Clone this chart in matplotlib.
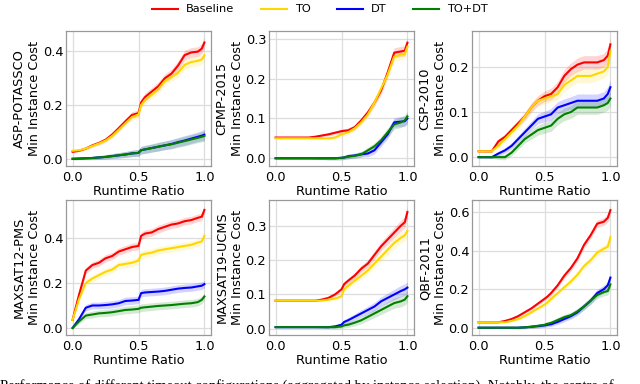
import matplotlib
matplotlib.use("Agg")
import matplotlib.pyplot as plt
import numpy as np

x = [0, 0.05, 0.1, 0.15, 0.2, 0.25, 0.3, 0.35, 0.4, 0.45, 0.5, 0.52, 0.55,
     0.6, 0.65, 0.7, 0.75, 0.8, 0.85, 0.9, 0.95, 0.98, 1.0]

series_names = ["Baseline", "TO", "DT", "TO+DT"]
series_colors = ["#ff0000", "#ffd700", "#0000ff", "#008000"]

panels = ["ASP-POTASSCO", "CPMP-2015", "CSP-2010",
          "MAXSAT12-PMS", "MAXSAT19-UCMS", "QBF-2011"]

asp_baseline = [0.026, 0.03, 0.038, 0.05, 0.059, 0.071, 0.09, 0.114, 0.139, 0.163, 0.17, 0.21, 0.23,
                0.25, 0.27, 0.30, 0.317, 0.347, 0.386, 0.396, 0.399, 0.41, 0.433]
asp_to = [0.03, 0.032, 0.038, 0.048, 0.057, 0.068, 0.085, 0.108, 0.132, 0.155, 0.165, 0.2, 0.22,
          0.24, 0.26, 0.29, 0.305, 0.32, 0.35, 0.36, 0.365, 0.37, 0.385]
asp_dt = [0.0, 0.001, 0.002, 0.003, 0.005, 0.007, 0.01, 0.013, 0.016, 0.02, 0.022, 0.032, 0.035,
          0.04, 0.045, 0.05, 0.055, 0.062, 0.068, 0.075, 0.082, 0.086, 0.09]
asp_todt = [0.0, 0.001, 0.002, 0.003, 0.005, 0.007, 0.01, 0.013, 0.016, 0.02, 0.022, 0.032, 0.035,
            0.04, 0.045, 0.05, 0.054, 0.06, 0.066, 0.072, 0.078, 0.082, 0.085]
asp_spread = [0.004, 0.004, 0.005, 0.006, 0.007, 0.008, 0.009, 0.01, 0.011, 0.012, 0.013, 0.014, 0.015,
              0.015, 0.016, 0.016, 0.017, 0.017, 0.018, 0.018, 0.018, 0.019, 0.02]

cpmp_baseline = [0.052, 0.052, 0.052, 0.052, 0.052, 0.052, 0.054, 0.057, 0.06, 0.064, 0.068, 0.069, 0.07,
                 0.078, 0.095, 0.115, 0.14, 0.17, 0.215, 0.265, 0.268, 0.27, 0.29]
cpmp_to = [0.05, 0.05, 0.05, 0.05, 0.05, 0.05, 0.05, 0.05, 0.05, 0.052, 0.06, 0.062, 0.065,
           0.075, 0.09, 0.11, 0.14, 0.175, 0.21, 0.255, 0.26, 0.262, 0.28]
cpmp_dt = [0.0, 0.0, 0.0, 0.0, 0.0, 0.0, 0.0, 0.0, 0.0, 0.0, 0.001, 0.002, 0.005,
           0.007, 0.01, 0.012, 0.02, 0.04, 0.06, 0.09, 0.092, 0.093, 0.1]
cpmp_todt = [0.0, 0.0, 0.0, 0.0, 0.0, 0.0, 0.0, 0.0, 0.0, 0.0, 0.001, 0.002, 0.004,
             0.006, 0.01, 0.02, 0.03, 0.045, 0.065, 0.085, 0.09, 0.095, 0.105]
cpmp_spread = [0.002, 0.002, 0.002, 0.002, 0.002, 0.002, 0.003, 0.003, 0.004, 0.004, 0.005, 0.005, 0.006,
               0.006, 0.007, 0.008, 0.009, 0.01, 0.011, 0.012, 0.013, 0.013, 0.014]

csp_baseline = [0.013, 0.013, 0.013, 0.035, 0.045, 0.06, 0.075, 0.09, 0.11, 0.125, 0.135, 0.137, 0.14,
                0.155, 0.18, 0.195, 0.205, 0.21, 0.21, 0.21, 0.215, 0.225, 0.25]
csp_to = [0.013, 0.013, 0.013, 0.025, 0.04, 0.055, 0.07, 0.09, 0.11, 0.125, 0.13, 0.132, 0.135,
          0.14, 0.16, 0.17, 0.18, 0.18, 0.18, 0.185, 0.19, 0.2, 0.235]
csp_dt = [0.0, 0.0, 0.0, 0.008, 0.015, 0.025, 0.04, 0.055, 0.07, 0.085, 0.09, 0.092, 0.095,
          0.11, 0.115, 0.12, 0.125, 0.125, 0.125, 0.125, 0.13, 0.14, 0.155]
csp_todt = [0.0, 0.0, 0.0, 0.0, 0.0, 0.01, 0.025, 0.04, 0.05, 0.06, 0.065, 0.067, 0.07,
            0.085, 0.095, 0.1, 0.11, 0.11, 0.11, 0.11, 0.115, 0.12, 0.13]
csp_spread = [0.002, 0.002, 0.003, 0.005, 0.006, 0.007, 0.008, 0.009, 0.01, 0.011, 0.012, 0.012, 0.013,
              0.013, 0.014, 0.014, 0.015, 0.015, 0.015, 0.015, 0.015, 0.016, 0.016]

ms12_baseline = [0.036, 0.15, 0.255, 0.28, 0.29, 0.31, 0.32, 0.34, 0.35, 0.36, 0.365, 0.41, 0.42,
                 0.425, 0.44, 0.45, 0.46, 0.465, 0.475, 0.48, 0.49, 0.495, 0.525]
ms12_to = [0.036, 0.13, 0.2, 0.22, 0.235, 0.25, 0.26, 0.28, 0.285, 0.29, 0.3, 0.325, 0.33,
           0.335, 0.345, 0.35, 0.355, 0.36, 0.365, 0.37, 0.38, 0.385, 0.41]
ms12_dt = [0.0, 0.04, 0.09, 0.1, 0.1, 0.102, 0.105, 0.11, 0.12, 0.122, 0.125, 0.155, 0.158,
           0.16, 0.162, 0.165, 0.17, 0.175, 0.178, 0.18, 0.185, 0.188, 0.195]
ms12_todt = [0.0, 0.03, 0.055, 0.06, 0.065, 0.067, 0.07, 0.075, 0.08, 0.082, 0.085, 0.09, 0.092,
             0.095, 0.098, 0.1, 0.102, 0.105, 0.108, 0.11, 0.115, 0.125, 0.14]
ms12_spread = [0.004, 0.01, 0.014, 0.015, 0.015, 0.016, 0.016, 0.016, 0.017, 0.017, 0.017, 0.017, 0.017,
               0.017, 0.017, 0.017, 0.017, 0.017, 0.017, 0.017, 0.017, 0.017, 0.017]

ms19_baseline = [0.082, 0.082, 0.082, 0.082, 0.082, 0.082, 0.082, 0.085, 0.09, 0.1, 0.115, 0.13, 0.14,
                 0.155, 0.175, 0.19, 0.215, 0.24, 0.26, 0.28, 0.3, 0.31, 0.34]
ms19_to = [0.082, 0.082, 0.082, 0.082, 0.082, 0.082, 0.082, 0.082, 0.085, 0.088, 0.095, 0.115, 0.125,
           0.14, 0.155, 0.17, 0.19, 0.21, 0.23, 0.25, 0.265, 0.272, 0.285]
ms19_dt = [0.005, 0.005, 0.005, 0.005, 0.005, 0.005, 0.005, 0.005, 0.005, 0.007, 0.012, 0.02, 0.025,
           0.035, 0.045, 0.055, 0.065, 0.08, 0.09, 0.1, 0.11, 0.115, 0.12]
ms19_todt = [0.005, 0.005, 0.005, 0.005, 0.005, 0.005, 0.005, 0.005, 0.005, 0.005, 0.007, 0.01, 0.012,
             0.018, 0.025, 0.035, 0.045, 0.055, 0.065, 0.075, 0.08, 0.085, 0.095]
ms19_spread = [0.002, 0.002, 0.002, 0.002, 0.002, 0.002, 0.002, 0.003, 0.004, 0.005, 0.006, 0.007, 0.008,
               0.009, 0.01, 0.011, 0.012, 0.013, 0.014, 0.015, 0.016, 0.016, 0.017]

qbf_baseline = [0.028, 0.028, 0.028, 0.028, 0.035, 0.045, 0.06, 0.08, 0.1, 0.125, 0.15, 0.16, 0.18,
                0.22, 0.27, 0.31, 0.36, 0.43, 0.48, 0.54, 0.55, 0.57, 0.61]
qbf_to = [0.028, 0.028, 0.028, 0.028, 0.028, 0.035, 0.045, 0.06, 0.08, 0.1, 0.12, 0.13, 0.15,
          0.18, 0.21, 0.24, 0.275, 0.32, 0.35, 0.39, 0.41, 0.42, 0.47]
qbf_dt = [0.0, 0.0, 0.0, 0.0, 0.0, 0.0, 0.0, 0.002, 0.005, 0.008, 0.012, 0.015, 0.018,
          0.03, 0.045, 0.06, 0.08, 0.11, 0.14, 0.18, 0.2, 0.22, 0.26]
qbf_todt = [0.0, 0.0, 0.0, 0.0, 0.0, 0.0, 0.0, 0.002, 0.005, 0.01, 0.015, 0.02, 0.025,
            0.04, 0.055, 0.065, 0.085, 0.11, 0.14, 0.17, 0.185, 0.19, 0.225]
qbf_spread = [0.003, 0.003, 0.003, 0.003, 0.004, 0.005, 0.006, 0.007, 0.008, 0.009, 0.01, 0.011, 0.012,
              0.013, 0.014, 0.015, 0.016, 0.017, 0.018, 0.019, 0.02, 0.02, 0.021]

panel_data = [
    (asp_baseline, asp_to, asp_dt, asp_todt, asp_spread),
    (cpmp_baseline, cpmp_to, cpmp_dt, cpmp_todt, cpmp_spread),
    (csp_baseline, csp_to, csp_dt, csp_todt, csp_spread),
    (ms12_baseline, ms12_to, ms12_dt, ms12_todt, ms12_spread),
    (ms19_baseline, ms19_to, ms19_dt, ms19_todt, ms19_spread),
    (qbf_baseline, qbf_to, qbf_dt, qbf_todt, qbf_spread),
]

xticks = [0.0, 0.5, 1.0]
xtick_labels = ["0.0", "0.5", "1.0"]

plt.rcParams["font.family"] = ["DejaVu Sans"]
fig = plt.figure(figsize=(6.4, 3.84), dpi=100)

lefts = [66, 269, 472]
tops = [31, 200]
w_px, h_px = 145, 135
FS = 9.3

xa = np.array(x)
handles = []
for i, name in enumerate(panels):
    r, c = divmod(i, 3)
    l = lefts[c] / 640
    b = 1 - (tops[r] + h_px) / 384
    ax = fig.add_axes([l, b, w_px / 640, h_px / 384])
    data = panel_data[i]
    spread = np.array(data[4])
    for k in range(4):
        y = np.array(data[k])
        ax.fill_between(xa, y - spread, y + spread, color=series_colors[k],
                        alpha=0.17, linewidth=0)
        ln, = ax.plot(xa, y, color=series_colors[k], lw=1.5, label=series_names[k])
        if i == 0:
            handles.append(ln)
    ax.set_xticks(xticks)
    ax.set_xticklabels(xtick_labels)
    ax.grid(True, color="#dddddd", lw=0.9)
    ax.set_axisbelow(True)
    for s in ax.spines.values():
        s.set_color("#999999")
        s.set_linewidth(0.9)
    ax.tick_params(axis="y", length=0, labelsize=FS, pad=2)
    ax.tick_params(axis="x", length=0, labelsize=FS, pad=3.5)
    ax.set_xlabel("Runtime Ratio", fontsize=FS, labelpad=1)
    ax.set_ylabel(name + "\nMin Instance Cost", fontsize=FS, labelpad=1.5)

fig.legend(handles, series_names, loc="upper center", bbox_to_anchor=(0.5, 1.015),
           ncol=4, frameon=False, fontsize=8.2, handlelength=2.3, columnspacing=2.3,
           handletextpad=0.7)

fig.text(0.0, 0.013, "Performance of different timeout configurations (aggregated by instance selection). Notably, the centre of",
         family="Liberation Serif", fontsize=10.5, va="top", ha="left")

fig.savefig("out.png", dpi=100)
